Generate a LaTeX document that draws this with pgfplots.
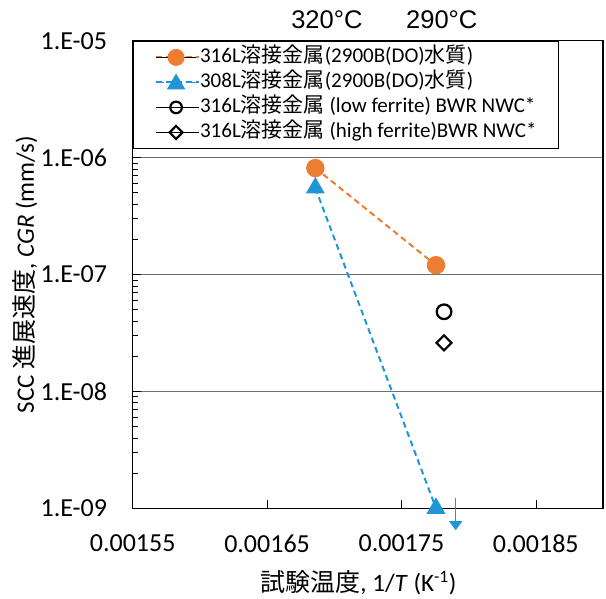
\documentclass[border=0pt]{standalone}
\usepackage{pgfplots}
\pgfplotsset{compat=1.18}
\usetikzlibrary{arrows.meta}
\usepackage{fontspec}
\setmainfont{Carlito}
\newfontfamily\jp{Noto Sans CJK JP}
\newfontfamily\arial{Liberation Sans}
\definecolor{exorange}{RGB}{237,125,49}
\definecolor{exblue}{RGB}{33,150,215}
\definecolor{gridc}{RGB}{110,110,110}
\newcommand\tickfont{\fontsize{26}{30}\selectfont}
\newcommand\legfont{\fontsize{21}{25}\selectfont}
\newcommand\labfont{\fontsize{25}{30}\selectfont}
\newcommand\topfont{\arial\fontsize{25.5}{30}\selectfont}
\begin{document}
\begin{tikzpicture}
\begin{axis}[
  at={(0,0)}, anchor=south west,
  scale only axis, width=470.3pt, height=467.6pt,
  xmin=0.00155, xmax=0.0019,
  ymode=log, ymin=1e-9, ymax=1e-5,
  clip=false,
  scaled x ticks=false,
  xtick={0.00155,0.00165,0.00175,0.00185},
  xticklabels={0.00155,0.00165,0.00175,0.00185},
  ytick={1e-9,1e-8,1e-7,1e-6,1e-5},
  yticklabels={1.E-09,1.E-08,1.E-07,1.E-06,1.E-05},
  minor ytick={2e-9,3e-9,4e-9,5e-9,6e-9,7e-9,8e-9,9e-9,
               2e-8,3e-8,4e-8,5e-8,6e-8,7e-8,8e-8,9e-8,
               2e-7,3e-7,4e-7,5e-7,6e-7,7e-7,8e-7,9e-7,
               2e-6,3e-6,4e-6,5e-6,6e-6,7e-6,8e-6,9e-6},
  tick pos=left, tick align=inside,
  major tick length=8pt, minor tick length=5pt,
  every tick/.style={black, line width=0.6pt},
  axis line style={black, line width=1.3pt},
  ymajorgrids=true,
  major grid style={gridc, line width=1pt},
  xticklabel style={font=\tickfont, inner sep=0pt, anchor=north, yshift=-26pt},
  yticklabel style={font=\tickfont, inner sep=0pt, anchor=east, xshift=-25.5pt},
  xlabel={{\jp 試験温度}, 1/\textit{T} (K\textsuperscript{-1})},
  xlabel style={font=\labfont, at={(axis description cs:0.48,0)}, anchor=center, yshift=-74.5pt},
  ylabel={SCC {\jp 進展速度}, \textit{CGR} (mm/s)},
  ylabel style={font=\labfont, at={(axis description cs:-0.229,0.5)}, anchor=center},
  legend style={at={(0,1)}, anchor=north west, draw=black, line width=0.8pt, fill=white,
    font=\legfont, inner xsep=22pt, inner ysep=6.3pt, row sep=5pt,
    nodes={inner sep=0pt, text height=15pt, text depth=5pt}},
  legend cell align=left,
]
\addplot[exorange, line width=2pt, dash pattern=on 6pt off 4pt,
  mark=*, mark size=8.2pt, mark options={solid, fill=exorange, draw=exorange},
  legend image code/.code={
    \path (0pt,0pt) -- (43pt,0pt);
    \draw[solid, black, line width=1.5pt] (0pt,0pt) -- (40pt,0pt);
    \fill[solid, exorange] (20pt,0pt) circle (7.5pt);}]
  coordinates {(0.00168592,8.14e-7) (0.00177573,1.2e-7)};
\addlegendentry{316L{\jp 溶接金属}(2900B(DO){\jp 水質})}
\addplot[exblue, line width=2pt, dash pattern=on 6pt off 4pt,
  mark=triangle*, mark size=9pt, mark options={solid, fill=exblue, draw=exblue},
  legend image code/.code={
    \path (0pt,0pt) -- (43pt,0pt);
    \draw[solid, exblue, line width=1.5pt] (0pt,0pt) -- (8pt,0pt) (32pt,0pt) -- (40pt,0pt);
    \fill[solid, exblue] (20pt,7pt) -- (27.5pt,-6pt) -- (12.5pt,-6pt) -- cycle;}]
  coordinates {(0.00168592,5.5e-7) (0.00177573,1e-9)};
\addlegendentry{308L{\jp 溶接金属}(2900B(DO){\jp 水質})}
\addplot[only marks, black, mark=o, mark size=7.3pt, mark options={line width=2.3pt},
  legend image code/.code={
    \path (0pt,0pt) -- (43pt,0pt);
    \draw[solid, black, line width=2.2pt] (20pt,0pt) circle (5.8pt);}]
  coordinates {(0.0017817,4.8e-8)};
\addlegendentry{316L{\jp 溶接金属} (low ferrite) BWR NWC*}
\addplot[only marks, black, mark=square, mark size=5.3pt, mark options={rotate=45, line width=2.2pt},
  legend image code/.code={
    \path (0pt,0pt) -- (43pt,0pt);
    \draw[solid, black, line width=2.2pt] (20pt,6.5pt) -- (26.5pt,0pt) -- (20pt,-6.5pt) -- (13.5pt,0pt) -- cycle;}]
  coordinates {(0.0017817,2.6e-8)};
\addlegendentry{316L{\jp 溶接金属} (high ferrite)BWR NWC*}
\addplot[forget plot, exblue, line width=1.5pt, -{Triangle[width=13pt,length=9pt]}]
  coordinates {(0.0017904,1.22e-9) (0.0017904,6.5e-10)};
\node[font=\topfont, anchor=base, yshift=12.7pt] at (axis cs:0.0016945,1e-5) {320°C};
\node[font=\topfont, anchor=base, yshift=12.7pt] at (axis cs:0.0017800,1e-5) {290°C};
\end{axis}
\pgfresetboundingbox
\path[use as bounding box] (-132.7pt,-90.7pt) rectangle (473.3pt,508.3pt);
\end{tikzpicture}
\end{document}
